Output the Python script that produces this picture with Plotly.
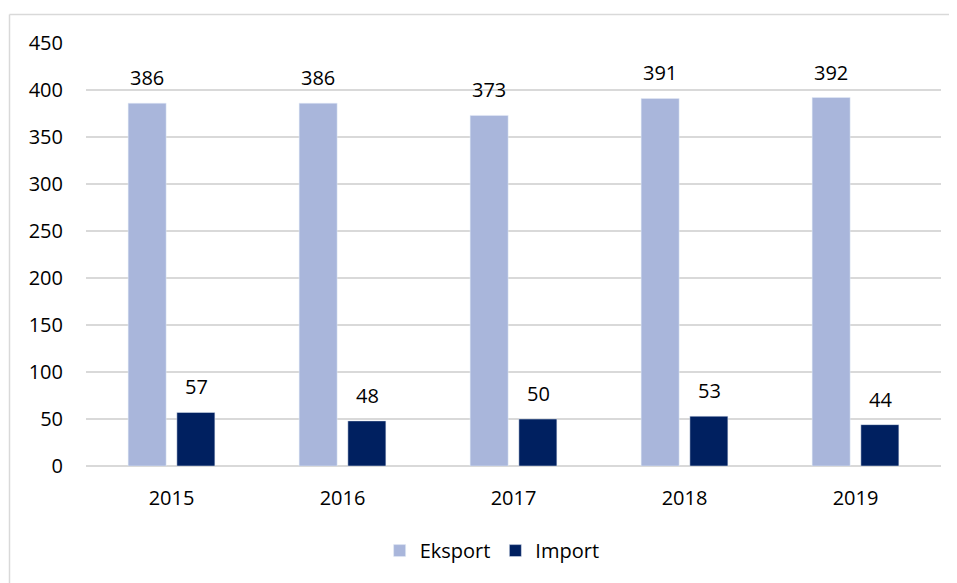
import plotly.graph_objects as go

years = ["2015", "2016", "2017", "2018", "2019"]
eksport = [386, 386, 373, 391, 392]
impor = [57, 48, 50, 53, 44]

font = "'Open Sans', sans-serif"
fsize = 20

fig = go.Figure()
fig.add_trace(go.Bar(x=years, y=eksport, name="Eksport", marker_color="#A9B6DB"))
fig.add_trace(go.Bar(x=years, y=impor, name="Import", marker_color="#002060"))

# value labels sit well above bars, like the original
# (category index as x, since "2015" would be read as index 2015)
for vals, dx in [(eksport, -24.5), (impor, 24.5)]:
    for i, v in enumerate(vals):
        fig.add_annotation(x=i, y=v, text=str(v), showarrow=False, xshift=dx,
                           yanchor="bottom", yshift=10,
                           font=dict(size=fsize, color="#000000"))

# page body has 8px margin, so the figure sits at (8, 8) on screen
fig.update_layout(
    width=957, height=583,
    margin=dict(l=78, r=24, t=35, b=125),
    paper_bgcolor="white", plot_bgcolor="white",
    barmode="group", bargap=0.43, bargroupgap=0.22,
    font=dict(family=font, size=fsize, color="#000000"),
    legend=dict(orientation="h", x=0.475, xanchor="center", y=-0.2, yanchor="middle",
                font=dict(size=fsize), itemwidth=30),
    showlegend=True,
)
fig.update_yaxes(range=[0, 450], dtick=50, showgrid=True, gridcolor="#D9D9D9", gridwidth=1.5,
                 zeroline=True, zerolinecolor="#D9D9D9", zerolinewidth=1.5,
                 tickfont=dict(size=fsize), ticks="", ticklabelstandoff=22)
fig.update_xaxes(type="category", range=[-0.5, 4.5], showline=False,
                 tickfont=dict(size=fsize), ticks="", ticklabelstandoff=18)

# chart border (left and top visible)
x0 = (1.5 - 78) / 855
y0 = (458 - 6.5) / 423
fig.add_shape(type="line", xref="paper", yref="paper", x0=x0, x1=x0, y0=y0, y1=-0.4,
              line=dict(color="#D9D9D9", width=1.5))
fig.add_shape(type="line", xref="paper", yref="paper", x0=x0, x1=1.05, y0=y0, y1=y0,
              line=dict(color="#D9D9D9", width=1.5))

fig.write_html("out.html")
